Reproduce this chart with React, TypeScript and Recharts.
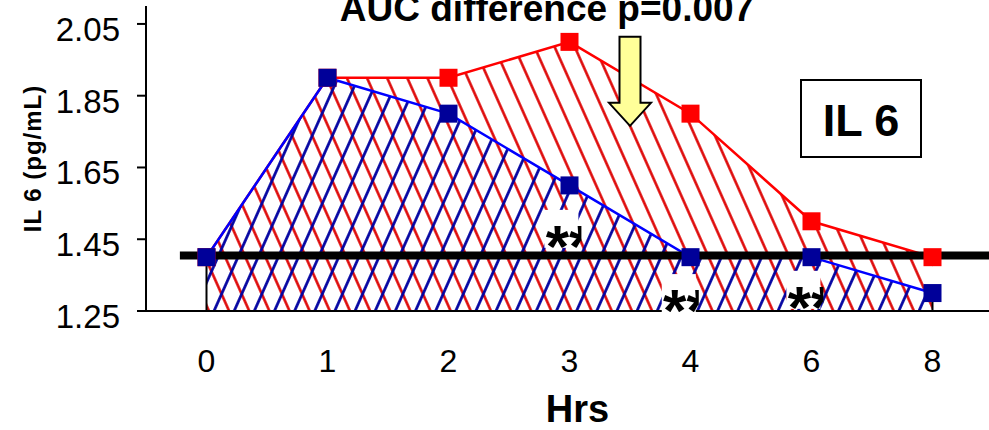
import React from 'react';
import { ComposedChart, Area, XAxis, YAxis, ReferenceLine, ReferenceDot } from 'recharts';

// Sampling times (hours) and IL-6 levels for the two groups
const hourLabels = ['0', '1', '2', '3', '4', '6', '8'];
const redGroup = [1.4, 1.9, 1.9, 2.0, 1.8, 1.5, 1.4];
const blueGroup = [1.4, 1.9, 1.8, 1.6, 1.4, 1.4, 1.3];
const yTicks = [1.25, 1.45, 1.65, 1.85, 2.05];
const baselineLevel = 1.405;

// Annotation anchors in data units (x = category index)
const arrowTip = { x: 3.5, y: 1.766 };
const asteriskMarks = [
  { x: 2.9, y: 1.465 },
  { x: 3.87, y: 1.286 },
  { x: 4.9, y: 1.295 },
];

const FONT = '"Liberation Sans", Arial, Helvetica, sans-serif';
const Y_MIN = 1.25;
const Y_MAX = 2.1;
const HATCH = 18.4;

const rows = hourLabels.map((h, i) => ({ idx: i, hour: h, red: redGroup[i], blue: blueGroup[i] }));
const centerTicks = hourLabels.map((_, i) => i);
const boundaryTicks = hourLabels.map((_, i) => i - 0.5).concat(hourLabels.length - 0.5);
const lastIdx = hourLabels.length - 1;

const squareDot = (color: string) => (props: any) => {
  const { cx, cy, index } = props;
  if (cx == null || cy == null) return <g key={`e-${color}-${index}`} />;
  return <rect key={`d-${color}-${index}`} x={cx - 9} y={cy - 9} width={18} height={18} fill={color} />;
};

const YTick = (props: any) => {
  const { x, y, payload } = props;
  return (
    <text x={x} y={y} dy={17} textAnchor="end" fontSize={33} fontFamily={FONT} fill="#000">
      {Number(payload.value).toFixed(2)}
    </text>
  );
};

const XTick = (props: any) => {
  const { x, y, payload } = props;
  return (
    <text x={x} y={y} dy={61} textAnchor="middle" fontSize={32} fontFamily={FONT} fill="#000">
      {hourLabels[payload.value]}
    </text>
  );
};

const renderYTitle = (props: any) => {
  const { x, y, height } = props.viewBox;
  const cx = x + 32;
  const cy = y + height / 2;
  return (
    <text
      x={cx}
      y={cy}
      transform={`rotate(-90 ${cx} ${cy})`}
      textAnchor="middle"
      dominantBaseline="central"
      fontSize={24}
      fontWeight="bold"
      letterSpacing={1}
      fontFamily={FONT}
      fill="#000"
    >
      IL 6 (pg/mL)
    </text>
  );
};

const renderXTitle = (props: any) => {
  const { x, y, width } = props.viewBox;
  return (
    <text x={x + width / 2 + 8} y={y + 111} textAnchor="middle" fontSize={38} fontWeight="bold" fontFamily={FONT} fill="#000">
      Hrs
    </text>
  );
};

const ArrowShape = (props: any) => {
  const { cx, cy } = props;
  const pts = [
    [cx - 10.5, cy - 89],
    [cx + 10.5, cy - 89],
    [cx + 10.5, cy - 23],
    [cx + 21, cy - 23],
    [cx, cy],
    [cx - 21, cy - 23],
    [cx - 10.5, cy - 23],
  ]
    .map((p) => p.join(','))
    .join(' ');
  return <polygon points={pts} fill="#FFFF99" stroke="#000" strokeWidth={2} strokeLinejoin="miter" />;
};

const asteriskShape = (id: number) => (props: any) => {
  const { cx, cy } = props;
  const clipId = `ast-clip-${id}`;
  return (
    <g>
      <defs>
        <clipPath id={clipId}>
          <rect x={cx - 13} y={cy - 24} width={37} height={38} />
        </clipPath>
      </defs>
      <rect x={cx - 13} y={cy - 24} width={34} height={38} fill="#fff" />
      <text x={cx - 11.7} y={cy + 33} clipPath={`url(#${clipId})`} fontSize={60} fontWeight="bold" fontFamily={FONT} fill="#000">
        **
      </text>
    </g>
  );
};

export default function App() {
  return (
    <div style={{ position: 'absolute', left: 0, top: 0, width: 989, height: 430, overflow: 'hidden', background: '#fff' }}>
      <div style={{ position: 'absolute', left: 0, top: 0 }}>
        <ComposedChart width={1010} height={430} data={rows} margin={{ top: 6, right: 17, bottom: 0, left: 0 }}>
          <defs>
            <pattern id="hatchRed" patternUnits="userSpaceOnUse" width={HATCH} height={HATCH} patternTransform="rotate(-24)">
              <line x1={HATCH / 2} y1={-1} x2={HATCH / 2} y2={HATCH + 1} stroke="#DD0000" strokeWidth={2.5} />
            </pattern>
            <pattern id="hatchBlue" patternUnits="userSpaceOnUse" width={HATCH} height={HATCH} patternTransform="rotate(24)">
              <line x1={HATCH / 2} y1={-1} x2={HATCH / 2} y2={HATCH + 1} stroke="#0000A0" strokeWidth={2.7} />
            </pattern>
          </defs>
          <XAxis
            xAxisId="bounds"
            type="number"
            domain={[-0.5, hourLabels.length - 0.5]}
            ticks={boundaryTicks}
            interval={0}
            tickFormatter={() => ''}
            tickSize={9}
            tickLine={{ stroke: '#000', strokeWidth: 2 }}
            axisLine={false}
            height={0}
            allowDataOverflow
          />
          <XAxis
            xAxisId="cat"
            type="number"
            dataKey="idx"
            domain={[-0.5, hourLabels.length - 0.5]}
            ticks={centerTicks}
            interval={0}
            tick={XTick}
            tickLine={false}
            tickSize={0}
            tickMargin={0}
            axisLine={{ stroke: '#000', strokeWidth: 2 }}
            height={119}
            allowDataOverflow
            label={{ content: renderXTitle }}
          />
          <YAxis
            yAxisId="v"
            type="number"
            domain={[Y_MIN, Y_MAX]}
            ticks={yTicks}
            interval={0}
            width={146}
            tickSize={9}
            tickMargin={17}
            tick={YTick}
            tickLine={{ stroke: '#000', strokeWidth: 2 }}
            axisLine={{ stroke: '#000', strokeWidth: 2 }}
            allowDataOverflow
            label={{ content: renderYTitle }}
          />
          <Area
            xAxisId="cat"
            yAxisId="v"
            type="linear"
            dataKey="red"
            baseValue={Y_MIN}
            stroke="#FF0000"
            strokeWidth={2.5}
            fill="url(#hatchRed)"
            fillOpacity={1}
            dot={squareDot('#FF0000')}
            activeDot={false}
            isAnimationActive={false}
          />
          <Area
            xAxisId="cat"
            yAxisId="v"
            type="linear"
            dataKey="blue"
            baseValue={Y_MIN}
            stroke="#0000FF"
            strokeWidth={2.5}
            fill="url(#hatchBlue)"
            fillOpacity={1}
            dot={squareDot('#000099')}
            activeDot={false}
            isAnimationActive={false}
          />
          <ReferenceLine
            xAxisId="cat"
            yAxisId="v"
            segment={[{ x: 0, y: Y_MIN }, { x: 0, y: blueGroup[0] }]}
            stroke="#000"
            strokeWidth={2}
            ifOverflow="visible"
          />
          <ReferenceLine
            xAxisId="cat"
            yAxisId="v"
            segment={[{ x: lastIdx, y: Y_MIN }, { x: lastIdx, y: blueGroup[lastIdx] }]}
            stroke="#000"
            strokeWidth={2}
            ifOverflow="visible"
          />
          <ReferenceLine
            xAxisId="cat"
            yAxisId="v"
            segment={[{ x: -0.22, y: baselineLevel }, { x: hourLabels.length - 0.5, y: baselineLevel }]}
            stroke="#000"
            strokeWidth={8}
            ifOverflow="visible"
          />
          <ReferenceDot xAxisId="cat" yAxisId="v" x={arrowTip.x} y={arrowTip.y} r={0} shape={ArrowShape} ifOverflow="visible" />
          {asteriskMarks.map((m, i) => (
            <ReferenceDot key={`ast-${i}`} xAxisId="cat" yAxisId="v" x={m.x} y={m.y} r={0} shape={asteriskShape(i)} ifOverflow="visible" />
          ))}
        </ComposedChart>
      </div>
      <svg width={989} height={430} style={{ position: 'absolute', left: 0, top: 0, pointerEvents: 'none' }}>
        <text x={547} y={21} textAnchor="middle" fontSize={37} fontWeight="bold" fontFamily={FONT} fill="#000">
          AUC difference p=0.007
        </text>
        <rect x={801} y={80} width={120} height={77} fill="#fff" stroke="#000" strokeWidth={2} />
        <text x={861} y={136} textAnchor="middle" fontSize={45} fontWeight="bold" fontFamily={FONT} fill="#000">
          IL 6
        </text>
      </svg>
    </div>
  );
}
